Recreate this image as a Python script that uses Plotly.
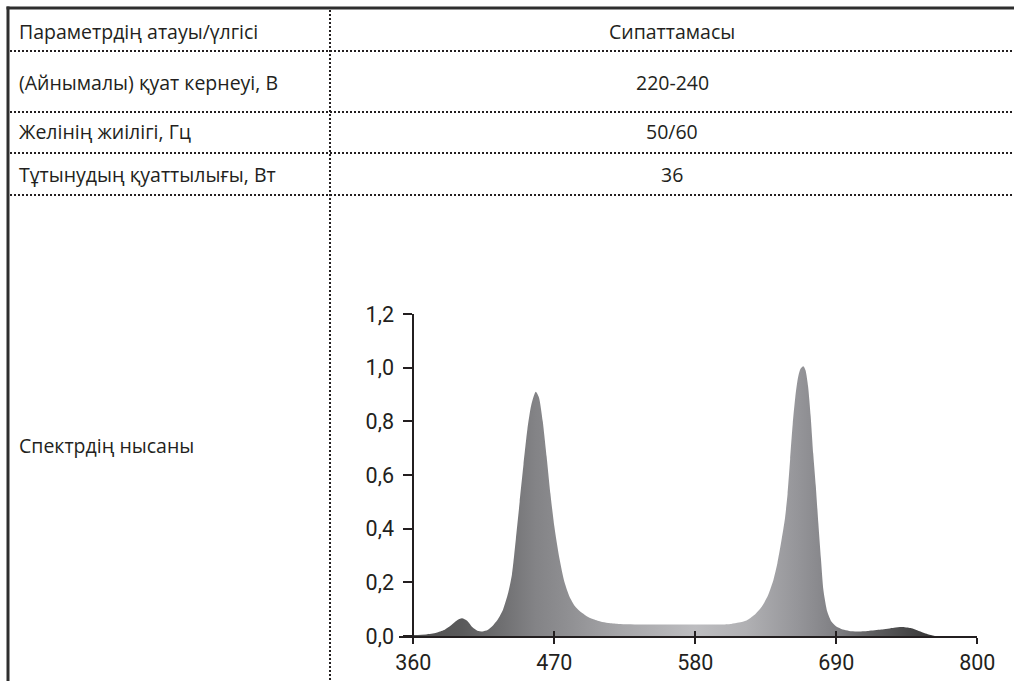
import plotly.graph_objects as go

# ---------------- data ----------------
row_labels = [
    "Параметрдің атауы/үлгісі",
    "(Айнымалы) қуат кернеуі, В",
    "Желінің жиілігі, Гц",
    "Тұтынудың қуаттылығы, Вт",
    "Спектрдің нысаны",
]
row_values = ["Сипаттамасы", "220-240", "50/60", "36"]

wavelength_nm = [360, 370, 378, 384, 390, 394, 398, 402, 406, 410, 414, 418, 422,
                 426, 430, 434, 437, 440, 443, 446, 449, 452, 455.5, 458, 461, 464,
                 467, 470, 474, 478, 482, 486, 490, 495, 500, 506, 512, 520, 540,
                 560, 580, 600, 608, 614, 620, 626, 632, 637, 641, 644, 647, 650,
                 652, 654, 656, 658, 660, 662, 664.3, 666, 668, 670, 672, 674, 676,
                 678, 680, 683, 686, 690, 695, 700, 706, 715, 725, 735, 741, 748,
                 755, 762, 767]
relative_intensity = [0.004, 0.006, 0.012, 0.022, 0.042, 0.058, 0.066, 0.057, 0.034,
                      0.020, 0.017, 0.022, 0.038, 0.062, 0.098, 0.16, 0.23, 0.36, 0.50,
                      0.64, 0.77, 0.86, 0.91, 0.89, 0.80, 0.67, 0.53, 0.41, 0.29, 0.20,
                      0.145, 0.112, 0.092, 0.075, 0.063, 0.054, 0.048, 0.045, 0.043,
                      0.043, 0.043, 0.043, 0.045, 0.050, 0.058, 0.078, 0.11, 0.155,
                      0.21, 0.27, 0.35, 0.44, 0.53, 0.66, 0.79, 0.89, 0.96, 0.995,
                      1.005, 0.99, 0.93, 0.82, 0.68, 0.56, 0.42, 0.29, 0.17, 0.09,
                      0.055, 0.035, 0.024, 0.019, 0.017, 0.019, 0.024, 0.031, 0.034,
                      0.030, 0.018, 0.006, 0.0]

x_tick_vals = [360, 470, 580, 690, 800]
y_tick_vals = [0.0, 0.2, 0.4, 0.6, 0.8, 1.0, 1.2]
y_tick_text = ["0,0", "0,2", "0,4", "0,6", "0,8", "1,0", "1,2"]

# ---------------- layout helpers ----------------
W, H = 1014, 681
INK = "#231f20"
TABLE_FONT = dict(size=19.5, color=INK, family="Open Sans")
TICK_FONT = dict(size=21.5, color=INK, family="Roboto")


def px(x):
    return x / W


def py(y):
    return 1 - y / H


fig = go.Figure()

fig.add_trace(go.Scatter(
    x=wavelength_nm, y=relative_intensity,
    mode="lines",
    line=dict(width=0, shape="spline", smoothing=0.6, color="rgba(0,0,0,0)"),
    fill="tozeroy",
    fillgradient=dict(
        type="horizontal", start=360, stop=770,
        colorscale=[
            [0.000, "#505050"],
            [0.093, "#5a5a5b"],
            [0.171, "#707072"],
            [0.232, "#838386"],
            [0.293, "#8f8f92"],
            [0.390, "#a5a5a8"],
            [0.537, "#bdbdc0"],
            [0.634, "#b0b0b3"],
            [0.732, "#959599"],
            [0.805, "#7f7f83"],
            [0.878, "#5c5c5e"],
            [1.000, "#333333"],
        ],
    ),
    hoverinfo="skip", showlegend=False,
))

# invisible helper trace for the overlay axis (inside ticks)
fig.add_trace(go.Scatter(x=[360, 800], y=[0, 0], xaxis="x2", yaxis="y",
                         mode="markers", marker=dict(opacity=0),
                         hoverinfo="skip", showlegend=False))

x_dom = [px(399.3), px(977.3)]
x_range = [349.1, 800]

fig.update_layout(
    width=W, height=H,
    margin=dict(l=0, r=0, t=0, b=0, autoexpand=False),
    paper_bgcolor="white", plot_bgcolor="rgba(0,0,0,0)",
    font=dict(family="Roboto", color=INK),
    xaxis=dict(
        domain=x_dom, range=x_range, anchor="y", automargin=False,
        showline=True, linewidth=2, linecolor=INK,
        ticks="outside", ticklen=6, tickwidth=2, tickcolor=INK,
        tickvals=x_tick_vals, ticktext=[str(v) for v in x_tick_vals],
        tickfont=TICK_FONT,
        showgrid=False, zeroline=False, fixedrange=True,
    ),
    xaxis2=dict(
        domain=x_dom, range=x_range, anchor="y", overlaying="x", automargin=False,
        showline=False, ticks="inside", ticklen=5, tickwidth=2, tickcolor=INK,
        tickvals=x_tick_vals, showticklabels=False,
        showgrid=False, zeroline=False, fixedrange=True,
    ),
    yaxis=dict(
        domain=[py(636), py(314)], range=[0, 1.2], automargin=False,
        anchor="free", position=px(413.3),
        showline=True, linewidth=2, linecolor=INK,
        ticks="outside", ticklen=9, tickwidth=2, tickcolor=INK,
        tickvals=y_tick_vals, ticktext=y_tick_text,
        tickfont=TICK_FONT, ticklabelstandoff=5,
        showgrid=False, zeroline=False, fixedrange=True,
    ),
)

# ---------------- table frame ----------------
shapes = []
shapes.append(dict(type="line", xref="paper", yref="paper",
                   x0=px(6.5), x1=1, y0=py(8), y1=py(8),
                   line=dict(color="#2e2e2e", width=3)))
shapes.append(dict(type="line", xref="paper", yref="paper",
                   x0=px(8), x1=px(8), y0=py(6.5), y1=0,
                   line=dict(color="#2e2e2e", width=3)))
for yy in [51, 112, 153, 195]:
    shapes.append(dict(type="line", xref="paper", yref="paper",
                       x0=px(10), x1=1, y0=py(yy), y1=py(yy),
                       line=dict(color=INK, width=2, dash="2px,2px")))
shapes.append(dict(type="line", xref="paper", yref="paper",
                   x0=px(330), x1=px(330), y0=py(10), y1=0,
                   line=dict(color=INK, width=2, dash="2px,2px")))
fig.update_layout(shapes=shapes)

# ---------------- table text ----------------
label_y = [31, 82, 132, 174, 445]
annotations = []
for txt, yy in zip(row_labels, label_y):
    annotations.append(dict(text=txt, xref="paper", yref="paper",
                            x=px(17), y=py(yy), xanchor="left", yanchor="middle",
                            showarrow=False, font=TABLE_FONT))
for txt, yy in zip(row_values, label_y[:4]):
    annotations.append(dict(text=txt, xref="paper", yref="paper",
                            x=px(672), y=py(yy), xanchor="center", yanchor="middle",
                            showarrow=False, font=TABLE_FONT))
fig.update_layout(annotations=annotations)

fig.write_html(
    "out.html",
    config=dict(displayModeBar=False),
    post_script="document.body.style.margin='0';document.body.style.overflow='hidden';",
)
